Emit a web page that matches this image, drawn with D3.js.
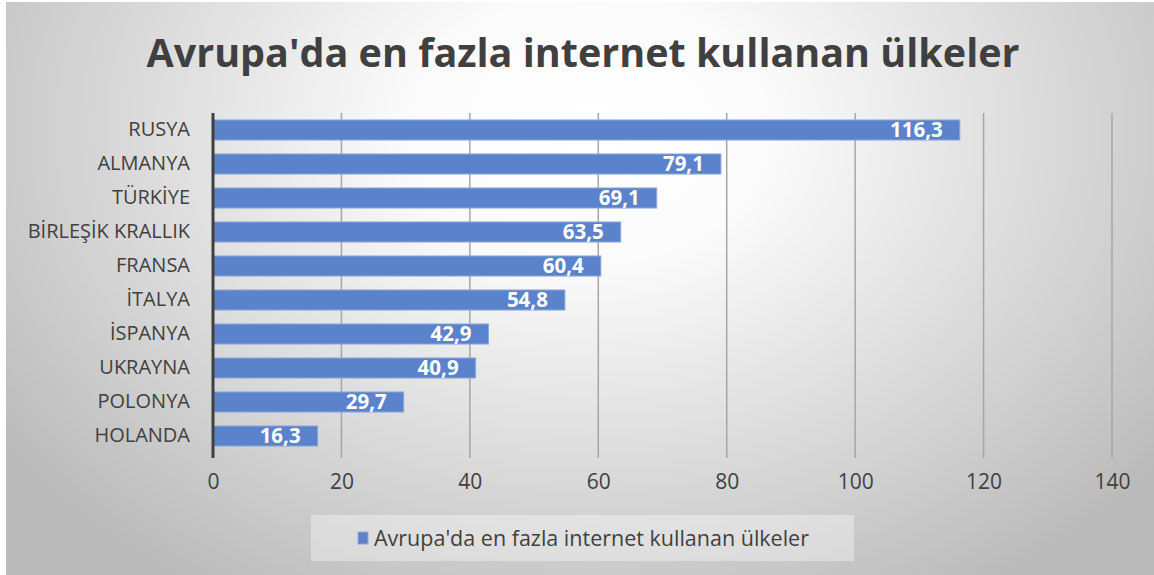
<!DOCTYPE html>
<html>
<head>
<meta charset="utf-8">
<script src="https://cdn.jsdelivr.net/npm/d3@7"></script>
<style>
  html, body { margin: 0; padding: 0; background: #ffffff; }
  svg { display: block; }
</style>
</head>
<body>
<svg id="chart" width="1154" height="575"></svg>
<script>
// Countries, top to bottom, with their values
const categories = ["RUSYA", "ALMANYA", "TÜRKİYE", "BİRLEŞİK KRALLIK", "FRANSA", "İTALYA", "İSPANYA", "UKRAYNA", "POLONYA", "HOLANDA"];
const values = [116.3, 79.1, 69.1, 63.5, 60.4, 54.8, 42.9, 40.9, 29.7, 16.3];
const xTicks = [0, 20, 40, 60, 80, 100, 120, 140];
const titleText = "Avrupa'da en fazla internet kullanan ülkeler";
const seriesName = "Avrupa'da en fazla internet kullanan ülkeler";

const font = "'Open Sans', sans-serif";
const svg = d3.select("#chart");

// Background panel with a soft radial fade
const defs = svg.append("defs");
const grad = defs.append("radialGradient")
  .attr("id", "bg").attr("gradientUnits", "userSpaceOnUse")
  .attr("cx", 590).attr("cy", 130).attr("r", 720)
  .attr("gradientTransform", "translate(590,130) scale(1,0.75) translate(-590,-130)");
grad.append("stop").attr("offset", "0%").attr("stop-color", "#ffffff");
grad.append("stop").attr("offset", "25%").attr("stop-color", "#fbfbfb");
grad.append("stop").attr("offset", "100%").attr("stop-color", "#bbbbbb");

svg.append("rect").attr("x", 6).attr("y", 2).attr("width", 1148).attr("height", 573)
  .attr("fill", "url(#bg)");

// Title
svg.append("text")
  .attr("x", 583).attr("y", 67)
  .attr("text-anchor", "middle")
  .attr("font-family", font).attr("font-weight", "bold")
  .attr("font-size", 39.5).attr("fill", "#404040")
  .text(titleText);

// Scales
const x = d3.scaleLinear().domain([0, 140]).range([213, 1112]);
const y = d3.scaleBand().domain(categories).range([113, 453]).paddingInner(0.41).paddingOuter(0.205);

// Vertical gridlines
svg.append("g").selectAll("line").data(xTicks.slice(1)).join("line")
  .attr("x1", d => x(d)).attr("x2", d => x(d))
  .attr("y1", 113).attr("y2", 458)
  .attr("stroke", "#a6a6a6").attr("stroke-width", 1.5);

// Bars
svg.append("g").selectAll("rect").data(values).join("rect")
  .attr("x", x(0))
  .attr("y", (d, i) => y(categories[i]))
  .attr("width", d => x(d) - x(0))
  .attr("height", y.bandwidth())
  .attr("fill", "#5b83cb")
  .attr("stroke", "#8fa9da").attr("stroke-width", 1);

// Value labels inside the bar ends
svg.append("g").selectAll("text").data(values).join("text")
  .attr("x", d => x(d) - 17)
  .attr("y", (d, i) => y(categories[i]) + y.bandwidth() / 2)
  .attr("dy", "0.36em")
  .attr("text-anchor", "end")
  .attr("font-family", font).attr("font-weight", "bold")
  .attr("font-size", 20.5).attr("fill", "#ffffff")
  .text(d => d.toFixed(1).replace(".", ","));

// Category axis line
svg.append("line")
  .attr("x1", x(0)).attr("x2", x(0)).attr("y1", 113).attr("y2", 458)
  .attr("stroke", "#404040").attr("stroke-width", 3);

// Category labels
const yAxis = svg.append("g").attr("transform", `translate(${x(0) - 23},0)`)
  .call(d3.axisLeft(y).tickSize(0).tickPadding(0));
yAxis.select(".domain").remove();
yAxis.selectAll("text")
  .attr("font-family", font).attr("font-size", 20).attr("fill", "#404040");

// Value axis labels
const xAxis = svg.append("g").attr("transform", "translate(0,474)")
  .call(d3.axisBottom(x).tickValues(xTicks).tickSize(0).tickPadding(0));
xAxis.select(".domain").remove();
xAxis.selectAll("text")
  .attr("dy", "0.71em")
  .attr("font-family", font).attr("font-size", 21).attr("fill", "#404040");

// Legend
const legend = svg.append("g");
legend.append("rect").attr("x", 311).attr("y", 515).attr("width", 543).attr("height", 46)
  .attr("fill", "#ffffff").attr("fill-opacity", 0.35);
legend.append("rect").attr("x", 358).attr("y", 532).attr("width", 10).attr("height", 12)
  .attr("fill", "#5b83cb").attr("stroke", "#8fa9da").attr("stroke-width", 1);
legend.append("text").attr("x", 374).attr("y", 538).attr("dy", "0.36em")
  .attr("font-family", font).attr("font-size", 21.5).attr("fill", "#404040")
  .text(seriesName);
</script>
</body>
</html>
